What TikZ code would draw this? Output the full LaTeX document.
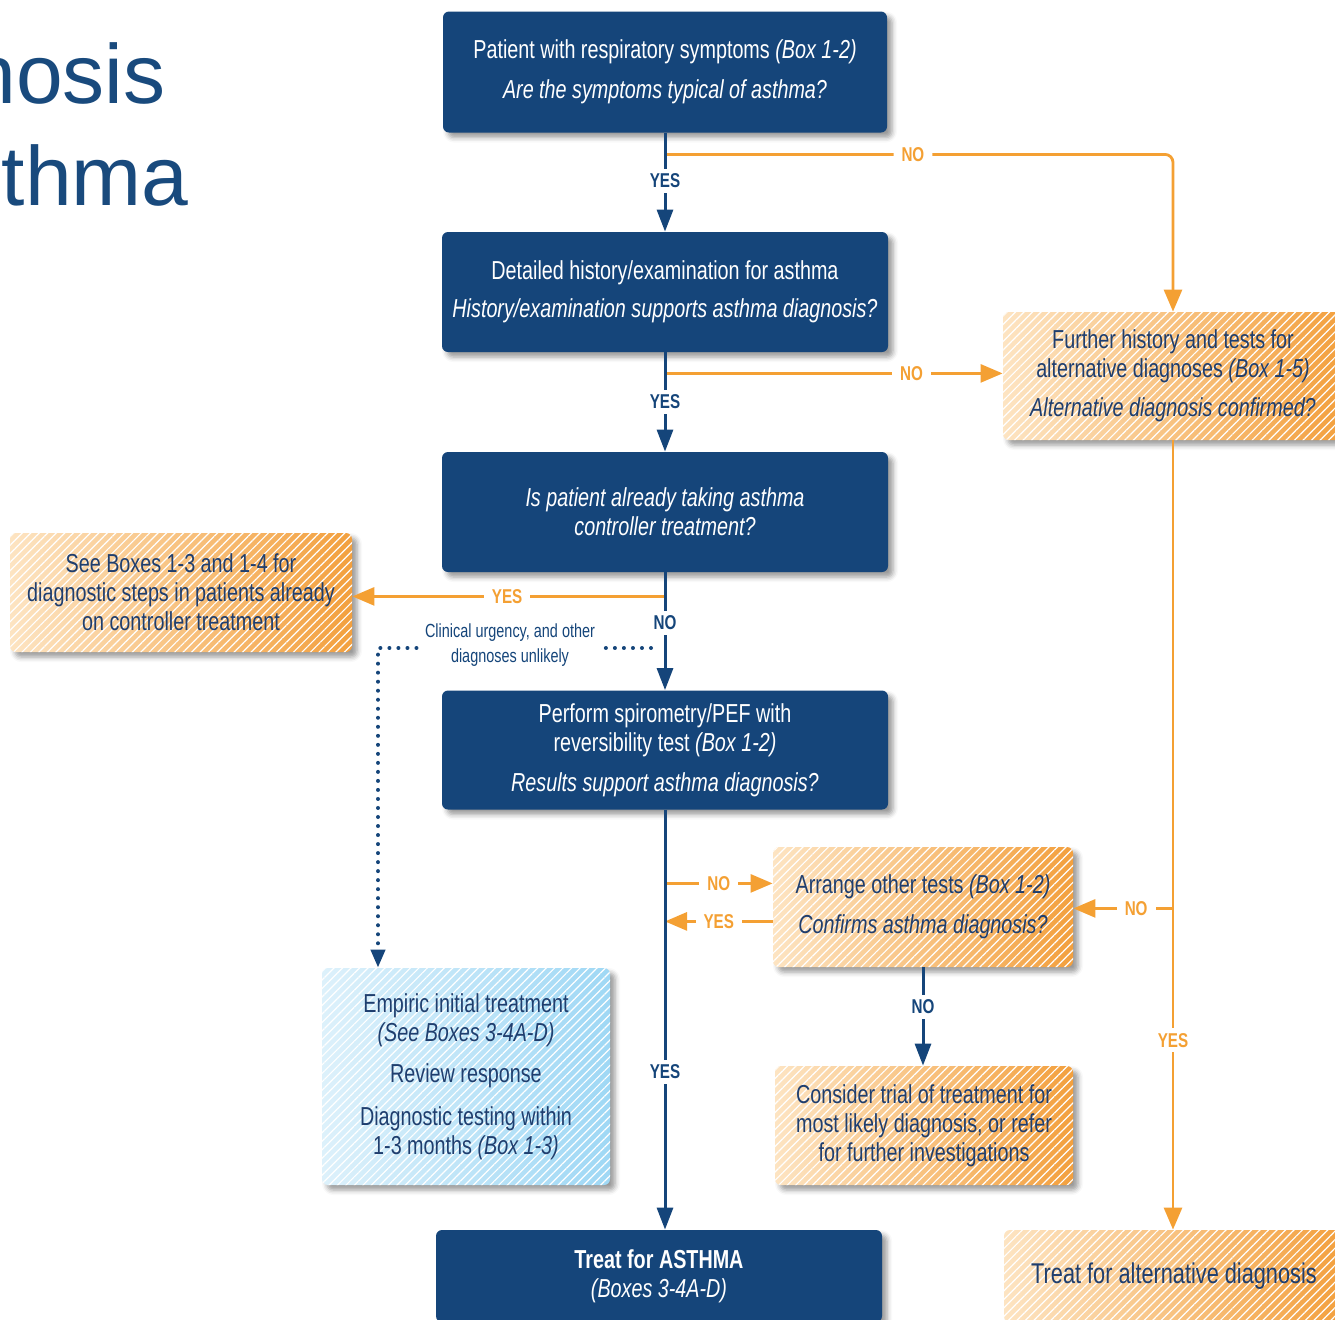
\documentclass[tikz,border=0pt]{standalone}
\usepackage{fontspec}
\setmainfont{Liberation Sans}
\newfontfamily\cond[FakeStretch=0.76]{Liberation Sans}
\usetikzlibrary{arrows.meta,calc,shadows.blur,patterns.meta}

\definecolor{navy}{HTML}{15457A}
\definecolor{navytext}{HTML}{1F3E6E}
\definecolor{orangeline}{HTML}{F4A033}
\definecolor{peach}{HTML}{FDE4C2}
\definecolor{deeporange}{HTML}{F3A03E}
\definecolor{skyL}{HTML}{DDF1FB}
\definecolor{skyR}{HTML}{9FD8F5}
\definecolor{titleblue}{HTML}{194A7D}

\tikzset{
  box/.style={rounded corners=3pt, align=center, inner sep=0pt,
    font=\cond\fontsize{13}{14.5}\selectfont,
    blur shadow={shadow xshift=2.5pt, shadow yshift=-2.5pt,
      shadow blur radius=2.5pt, shadow opacity=40}},
  navybox/.style={box, fill=navy, text=white},
  stripes/.style={postaction={pattern={Lines[angle=45,distance=3pt,line width=0.6pt]},
      pattern color=white, fill opacity=0.45}},
  orangebox/.style={box, left color=peach, right color=deeporange, text=navytext, stripes},
  bluebox/.style={box, left color=skyL, right color=skyR, text=navytext, stripes},
  navyline/.style={draw=navy, line width=1.5pt},
  navyarrow/.style={navyline, -{Triangle[length=11pt,width=8pt]}},
  orline/.style={draw=orangeline, line width=1.4pt},
  orarrow/.style={orline, -{Triangle[length=11pt,width=9pt]}},
  dotline/.style={draw=navy, line width=2pt, line cap=round,
    dash pattern=on 0.01pt off 4.5pt, -{Triangle[length=9pt,width=7pt]}},
  yn/.style={fill=white, inner xsep=4pt, inner ysep=2.5pt,
    font=\cond\bfseries\fontsize{10}{10}\selectfont},
  nyn/.style={yn, text=navy},
  oyn/.style={yn, text=orangeline},
}

\begin{document}
\begin{tikzpicture}[x=0.5pt,y=-0.5pt]
\useasboundingbox (0,0) rectangle (1335,1319);
\clip (0,0) rectangle (1335,1319);

% title
\node[anchor=base east, inner sep=0pt, text=titleblue,
  font=\fontsize{42}{50}\selectfont] (title1) at (166,103) {Diagnosis};
\node[anchor=base east, inner sep=0pt, text=titleblue,
  font=\fontsize{42}{50}\selectfont] (title2) at (189,205) {of asthma};

% main column
\node[navybox, minimum width=222pt, minimum height=60.5pt] (A) at (665,72)
  {Patient with respiratory symptoms \textit{(Box 1-2)}\\[5.5pt]
   \textit{Are the symptoms typical of asthma?}};
\node[navybox, minimum width=223pt, minimum height=60pt] (B) at (665,292)
  {Detailed history/examination for asthma\\[4.5pt]
   \textit{History/examination supports asthma diagnosis?}};
\node[navybox, minimum width=223pt, minimum height=60pt] (C) at (665,512)
  {\textit{Is patient already taking asthma}\\
   \textit{controller treatment?}};
\node[navybox, minimum width=223pt, minimum height=59.5pt] (D) at (665,750)
  {Perform spirometry/PEF with\\
   reversibility test \textit{(Box 1-2)}\\[5.5pt]
   \textit{Results support asthma diagnosis?}};
\node[navybox, minimum width=223pt, minimum height=46pt] (E) at (659,1276)
  {{\bfseries Treat for ASTHMA}\\
   \textit{(Boxes 3-4A-D)}};

% side boxes
\node[orangebox, minimum width=170pt, minimum height=64pt] (F) at (1173,376)
  {Further history and tests for\\
   alternative diagnoses \textit{(Box 1-5)}\\[5pt]
   \textit{Alternative diagnosis confirmed?}};
\node[orangebox, minimum width=171pt, minimum height=59.5pt] (G) at (181,592.5)
  {See Boxes 1-3 and 1-4 for\\
   diagnostic steps in patients already\\
   on controller treatment};
\node[orangebox, minimum width=150pt, minimum height=60pt] (H) at (923,907)
  {Arrange other tests \textit{(Box 1-2)}\\[5.5pt]
   \textit{Confirms asthma diagnosis?}};
\node[orangebox, minimum width=149pt, minimum height=59.5pt] (I) at (924,1125.5)
  {Consider trial of treatment for\\
   most likely diagnosis, or refer\\
   for further investigations};
\node[orangebox, minimum width=170pt, minimum height=46pt,
  font=\cond\fontsize{14.3}{16}\selectfont] (J) at (1174,1276)
  {Treat for alternative diagnosis};
\node[bluebox, minimum width=144pt, minimum height=108.5pt] (K) at (466,1076.5)
  {Empiric initial treatment\\
   \textit{(See Boxes 3-4A-D)}\\[6pt]
   Review response\\[7pt]
   Diagnostic testing within\\
   1-3 months \textit{(Box 1-3)}};

% junction points on the vertical connectors
\coordinate (a1) at ($(A.south)+(0,21.5)$);
\coordinate (b1) at ($(B.south)+(0,21)$);
\coordinate (c1) at ($(C.south)+(0,24)$);
\coordinate (h1) at ($(D.south)+(0,73.5)$);
\coordinate (h2) at ($(D.south)+(0,111.5)$);
\coordinate (f1) at ($(F.south)+(0,468)$);
\coordinate (d0) at (651,648);
\coordinate (d1) at (378,648);

% orange connectors
\draw[orarrow, rounded corners=4pt] (a1) -| node[oyn, pos=0.244] {NO} (F.north);
\draw[orarrow] (b1) -- node[oyn, pos=0.73] {NO} (b1 -| F.west);
\draw[orarrow] (c1) -- node[oyn, pos=0.505] {YES} (c1 -| G.east);
\draw[orarrow] (h1) -- node[oyn, pos=0.5] {NO} (h1 -| H.west);
\draw[orarrow] (h2 -| H.west) -- node[oyn, pos=0.5] {YES} (h2);
\draw[orarrow] (F.south) -- node[oyn, pos=0.76] {YES} (F.south |- J.north);
\draw[orarrow] (f1) -- node[oyn, pos=0.37] {NO} (f1 -| H.east);

% navy connectors
\draw[navyarrow] (A.south) -- node[nyn, pos=0.487] {YES} (B.north);
\draw[navyarrow] (B.south) -- node[nyn, pos=0.5] {YES} (C.north);
\draw[navyarrow] (C.south) -- node[nyn, pos=0.43] {NO} (D.north);
\draw[navyarrow] (D.south) -- node[nyn, pos=0.624] {YES} (D.south |- E.north);
\draw[navyarrow] (H.south) -- node[nyn, pos=0.4] {NO} (H.south |- I.north);

% dotted shortcut to empiric treatment
\draw[dotline] (d0) -- (d1) -- (d1 |- K.north);
\node[fill=white, align=center, text=navy, inner xsep=3pt, inner ysep=1pt,
  font=\cond\fontsize{9.5}{12.5}\selectfont] (U) at (510,645.5)
  {Clinical urgency, and other\\diagnoses unlikely};
\end{tikzpicture}
\end{document}
